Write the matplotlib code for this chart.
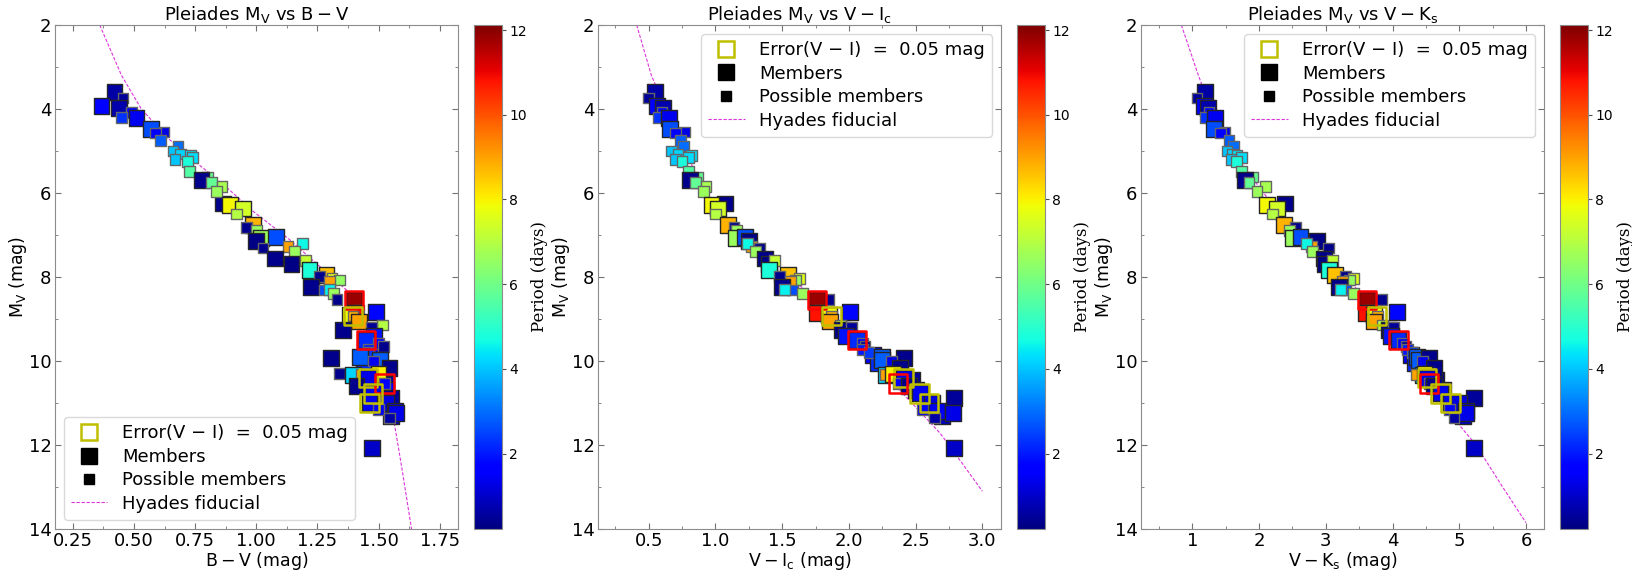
import matplotlib
matplotlib.use("Agg")
import matplotlib.pyplot as plt
from matplotlib.lines import Line2D
from matplotlib.colors import Normalize
from matplotlib.ticker import AutoMinorLocator

# stars (same stars in every panel)
mv = [3.60, 3.74, 3.92, 3.98, 4.09, 4.20, 4.22, 4.47, 4.55, 4.57,
      4.75, 4.88, 5.00, 5.07, 5.10, 5.15, 5.20, 5.25, 5.48, 5.62,
      5.70, 5.75, 6.25, 5.85, 5.96, 6.28, 6.37, 6.50, 6.77, 6.82,
      6.90, 7.08, 7.05, 7.15, 7.28, 7.31, 7.20, 7.40, 7.56, 7.69,
      7.60, 7.84, 7.96, 7.98, 8.03, 8.07, 8.10, 8.23, 8.31, 8.30,
      8.39, 8.53, 8.55, 8.79, 8.85, 8.90, 8.93, 9.06, 8.83, 9.14,
      9.26, 9.20, 9.40, 9.85, 10.05, 10.45, 10.70, 11.30,
      9.50, 9.58, 9.66, 9.72, 9.80, 9.90, 9.97, 9.93, 10.00,
      10.17, 10.29, 10.33, 10.33, 10.30, 10.41, 10.54, 10.60, 10.77, 11.00,
      10.88, 11.00, 11.15, 11.20, 11.24, 11.36, 12.07]
period = [0.6, 0.5, 1.6, 0.7, 1.8, 2.3, 1.4, 2.6, 1.3, 1.6,
          2.8, 3.0, 4.0, 4.2, 4.4, 4.3, 4.0, 4.8, 5.6, 5.8,
          0.4, 5.8, 0.4, 6.8, 6.6, 7.9, 7.4, 7.0, 8.8, 0.4,
          6.6, 6.6, 2.6, 0.3, 9.0, 0.4, 4.6, 6.6, 0.4, 0.3,
          7.2, 4.8, 8.6, 0.4, 7.6, 6.5, 9.0, 0.4, 2.6, 4.5,
          6.6, 0.4, 11.8, 11.4, 10.8, 7.8, 8.8, 9.0, 1.8, 7.0,
          0.4, 0.5, 1.9, 1.7, 2.2, 0.5, 1.6, 0.9,
          2.2, 1.6, 0.4, 2.0, 2.4, 2.8, 2.8, 0.4, 1.4,
          0.4, 0.4, 4.2, 9.0, 8.0, 1.3, 1.5, 0.4, 1.4, 1.4,
          0.5, 1.2, 1.5, 1.4, 1.3, 0.6, 1.0]
bv = [0.42, 0.455, 0.367, 0.44, 0.49, 0.45, 0.51, 0.568, 0.623, 0.587,
      0.609, 0.68, 0.66, 0.69, 0.73, 0.74, 0.668, 0.718, 0.728, 0.80,
      0.776, 0.817, 0.865, 0.86, 0.838, 0.891, 0.946, 0.92, 0.987, 0.96,
      1.00, 1.02, 1.082, 1.00, 1.13, 1.028, 1.19, 1.157, 1.075, 1.144,
      1.20, 1.218, 1.287, 1.26, 1.31, 1.34, 1.30, 1.224, 1.28, 1.30,
      1.315, 1.33, 1.40, 1.417, 1.40, 1.382, 1.396, 1.42, 1.49, 1.516,
      1.355, 1.47, 1.48, 1.48, 1.44, 1.53, 1.53, 1.55,
      1.45, 1.50, 1.52, 1.46, 1.46, 1.423, 1.505, 1.307, 1.48,
      1.545, 1.34, 1.396, 1.43, 1.50, 1.457, 1.525, 1.41, 1.477, 1.463,
      1.55, 1.532, 1.50, 1.566, 1.57, 1.545, 1.475]
vi = [0.55, 0.50, 0.56, 0.61, 0.60, 0.57, 0.65, 0.66, 0.77, 0.70,
      0.74, 0.76, 0.67, 0.72, 0.82, 0.80, 0.70, 0.75, 0.80, 0.87,
      0.808, 0.85, 1.07, 0.93, 0.908, 0.971, 1.02, 1.00, 1.095, 1.14,
      1.16, 1.15, 1.22, 1.25, 1.27, 1.33, 1.24, 1.30, 1.37, 1.40,
      1.44, 1.40, 1.546, 1.48, 1.63, 1.60, 1.56, 1.50, 1.58, 1.52,
      1.65, 1.85, 1.76, 1.78, 1.763, 1.85, 1.87, 1.86, 2.01, 1.94,
      1.95, 2.02, 1.98, 2.18, 2.22, 2.47, 2.50, 2.70,
      2.06, 2.10, 2.12, 2.10, 2.15, 2.246, 2.25, 2.41, 2.32,
      2.38, 2.35, 2.28, 2.27, 2.33, 2.41, 2.37, 2.45, 2.53, 2.60,
      2.79, 2.62, 2.55, 2.66, 2.78, 2.64, 2.79]
vk = [1.19, 1.07, 1.17, 1.24, 1.25, 1.20, 1.34, 1.32, 1.49, 1.42,
      1.55, 1.62, 1.52, 1.60, 1.67, 1.74, 1.58, 1.66, 1.74, 1.90,
      1.79, 1.85, 2.39, 2.10, 1.97, 2.12, 2.27, 2.20, 2.37, 2.55,
      2.45, 2.50, 2.62, 2.87, 2.79, 3.04, 2.71, 2.80, 2.97, 2.99,
      3.10, 3.05, 3.14, 3.29, 3.42, 3.35, 3.25, 3.20, 3.30, 3.22,
      3.42, 3.84, 3.62, 3.65, 3.60, 3.72, 3.77, 3.72, 4.07, 3.85,
      3.95, 4.02, 3.98, 4.28, 4.33, 4.65, 4.75, 5.05,
      4.09, 4.15, 4.20, 4.22, 4.30, 4.37, 4.40, 4.55, 4.45,
      4.62, 4.55, 4.45, 4.35, 4.48, 4.52, 4.55, 4.62, 4.72, 4.87,
      5.22, 5.00, 4.85, 5.10, 5.10, 4.92, 5.22]
# 1 = member (big square), 0 = possible member (small square)
member = [1, 0, 1, 1, 0, 0, 1, 1, 0, 0,
          0, 0, 0, 0, 0, 0, 0, 0, 0, 0,
          1, 0, 1, 0, 0, 1, 1, 0, 1, 0,
          0, 1, 1, 1, 0, 0, 0, 0, 1, 1,
          0, 1, 1, 0, 0, 0, 0, 1, 0, 0,
          0, 0, 1, 0, 1, 1, 0, 1, 1, 0,
          1, 0, 1, 1, 1, 1, 1, 1,
          1, 0, 0, 0, 0, 1, 1, 1, 0,
          1, 0, 1, 0, 1, 1, 0, 1, 1, 1,
          1, 1, 0, 1, 1, 0, 1]
# highlighted stars: 'r' red box, 'y' Error(V-I) box
outline = ['', '', '', '', '', '', '', '', '', '',
           '', '', '', '', '', '', '', '', '', '',
           '', '', '', '', '', '', '', '', '', '',
           '', '', '', '', '', '', '', '', '', '',
           '', '', '', '', '', '', '', '', '', '',
           '', '', 'r', '', '', '', 'y', '', '', '',
           '', '', '', '', '', '', '', '',
           'r', '', '', '', '', '', '', '', '',
           '', '', '', '', '', 'y', 'r', '', 'y', 'y',
           '', '', '', '', '', '', '']

# Hyades fiducial sequences
fid_bv_mv = [2.0, 3.2, 4.0, 4.7, 5.3, 5.82, 6.45, 7.08, 8.31, 9.18, 10.13, 11.08, 12.5, 14.0]
fid_bv = [0.36, 0.449, 0.53, 0.64, 0.76, 0.87, 0.99, 1.13, 1.369, 1.45, 1.507, 1.553, 1.594, 1.635]
fid_vi_mv = [2.0, 3.2, 4.39, 5.58, 6.53, 7.16, 7.8, 8.55, 9.5, 10.53, 11.72, 12.0, 13.1]
fid_vi = [0.41, 0.52, 0.683, 0.859, 1.033, 1.234, 1.45, 1.784, 2.06, 2.333, 2.684, 2.75, 3.0]
fid_vk_mv = [2.0, 3.2, 4.39, 5.42, 6.21, 6.93, 7.8, 8.63, 9.58, 10.53, 11.56, 12.0, 13.0, 13.85]
fid_vk = [0.835, 1.09, 1.37, 1.79, 2.17, 2.62, 3.17, 3.67, 4.12, 4.57, 5.02, 5.25, 5.65, 6.0]

panels = [
    (bv, fid_bv, fid_bv_mv, r"Pleiades $\mathrm{M_V}$ vs $\mathrm{B-V}$", r"$\mathrm{B-V}$ (mag)",
     (0.177, 1.825), [0.25, 0.5, 0.75, 1.0, 1.25, 1.5, 1.75], ["0.25", "0.50", "0.75", "1.00", "1.25", "1.50", "1.75"], "lower left"),
    (vi, fid_vi, fid_vi_mv, r"Pleiades $\mathrm{M_V}$ vs $\mathrm{V-I_c}$", r"$\mathrm{V-I_c}$ (mag)",
     (0.12, 3.14), [0.5, 1.0, 1.5, 2.0, 2.5, 3.0], ["0.5", "1.0", "1.5", "2.0", "2.5", "3.0"], "upper right"),
    (vk, fid_vk, fid_vk_mv, r"Pleiades $\mathrm{M_V}$ vs $\mathrm{V-K_s}$", r"$\mathrm{V-K_s}$ (mag)",
     (0.23, 6.27), [1, 2, 3, 4, 5, 6], ["1", "2", "3", "4", "5", "6"], "upper right"),
]

W, H = 1633, 573
fig = plt.figure(figsize=(W / 100, H / 100), dpi=100)
norm = Normalize(vmin=0.22, vmax=12.12)
ax_left = [55, 598, 1141]
ax_w = 403
cb_left = [474, 1017, 1560]
cb_w = 28
top, bot = 25, 529

sizes = [130 if m else 60 for m in member]
edges = ['0.15' if m else '0.4' for m in member]

for i, (col, fcol, fmv, title, xlabel, xlim, xt, xtl, legloc) in enumerate(panels):
    ax = fig.add_axes([ax_left[i] / W, 1 - bot / H, ax_w / W, (bot - top) / H])
    cax = fig.add_axes([cb_left[i] / W, 1 - bot / H, cb_w / W, (bot - top) / H])

    ax.plot(fcol, fmv, ls='--', color='#dd33dd', lw=0.8, dashes=(3, 1.5), zorder=1)
    sc = ax.scatter(col, mv, c=period, cmap='jet', norm=norm, marker='s', s=sizes,
                    edgecolors=edges, linewidths=1.0, zorder=2)
    for x, y, o in zip(col, mv, outline):
        if o == 'r':
            ax.scatter(x, y, marker='s', s=175, facecolors='none', edgecolors='red', linewidths=1.8, zorder=3)
        elif o == 'y':
            ax.scatter(x, y, marker='s', s=175, facecolors='none', edgecolors='#bfbf00', linewidths=1.8, zorder=3)

    ax.set_xlim(*xlim)
    ax.set_ylim(14, 2)
    ax.set_xticks(xt)
    ax.set_xticklabels(xtl)
    ax.set_yticks([2, 4, 6, 8, 10, 12, 14])
    ax.xaxis.set_minor_locator(AutoMinorLocator(2))
    ax.yaxis.set_minor_locator(AutoMinorLocator(2))
    ax.tick_params(which='both', direction='in', top=True, right=True, colors='0.45', labelcolor='black', labelsize=13)
    ax.tick_params(which='major', length=4, pad=2.5)
    ax.tick_params(which='minor', length=2)
    for sp in ax.spines.values():
        sp.set_color('0.55')
    ax.set_title(title, fontsize=13, pad=3)
    ax.set_xlabel(xlabel, fontsize=12.5, labelpad=0)
    ax.set_ylabel(r"$\mathrm{M_V}$ (mag)", fontsize=12.5, labelpad=0)

    handles = [
        Line2D([], [], ls='none', marker='s', markersize=12, markerfacecolor='white',
               markeredgecolor='#bfbf00', markeredgewidth=1.8),
        Line2D([], [], ls='none', marker='s', markersize=11.5, color='black'),
        Line2D([], [], ls='none', marker='s', markersize=7.5, color='black'),
        Line2D([], [], ls='--', color='#dd33dd', lw=0.8, dashes=(3, 1.5)),
    ]
    labels = ["Error(V \u2212 I)  =  0.05 mag", "Members", "Possible members", "Hyades fiducial"]
    ax.legend(handles, labels, loc=legloc, fontsize=13, labelspacing=0.3,
              handlelength=2.0, borderpad=0.4, framealpha=1, edgecolor='0.85')

    cb = fig.colorbar(sc, cax=cax)
    cb.set_ticks([2, 4, 6, 8, 10, 12])
    cb.ax.tick_params(labelsize=10, length=3, color='0.3', pad=2)
    cb.outline.set_edgecolor('0.55')
    cb.set_label('Period (days)', family='DejaVu Serif', fontsize=12, labelpad=3)

fig.savefig('out.png', dpi=100)
